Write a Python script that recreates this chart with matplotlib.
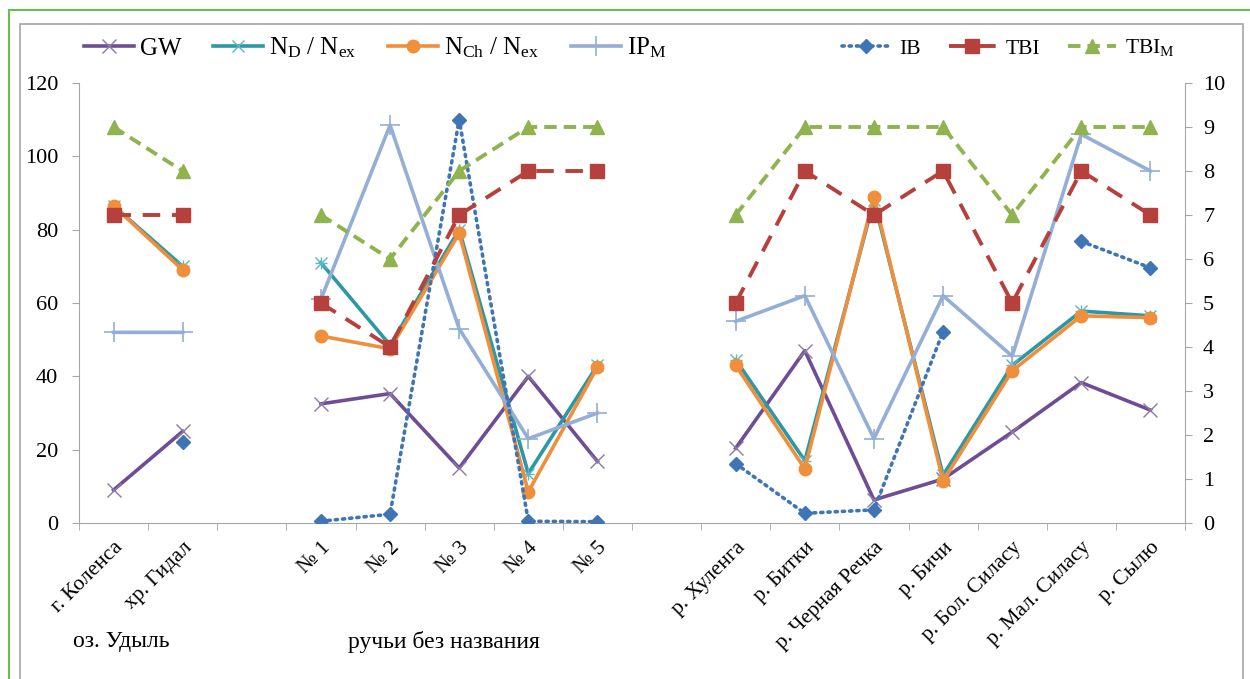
import numpy as np
import matplotlib
matplotlib.use("Agg")
import matplotlib.pyplot as plt
from matplotlib.patches import Rectangle

plt.rcParams['font.family'] = ['Liberation Serif', 'DejaVu Serif']
plt.rcParams['mathtext.fontset'] = 'custom'
plt.rcParams['mathtext.rm'] = 'Liberation Serif'
plt.rcParams['mathtext.it'] = 'Liberation Serif:italic'
plt.rcParams['mathtext.default'] = 'regular'

categories = ["г. Коленса", "хр. Гидал", "", "№ 1", "№ 2", "№ 3", "№ 4", "№ 5", "",
              "р. Хуленга", "р. Битки", "р. Черная Речка", "р. Бичи",
              "р. Бол. Силасу", "р. Мал. Силасу", "р. Сылю"]
groups = ["оз. Удыль", "ручьи без названия"]

N = None
GW   = [9, 25, N, 32.5, 35.3, 15, 40, 16.8, N, 20.4, 47, 6.3, 12, 24.8, 38.3, 30.8]
ND   = [86.5, 70, N, 71, 48.5, 80, 13.5, 43, N, 44.5, 17, 88, 13, 43, 57.8, 56.5]
NCh  = [86.5, 69, N, 51, 47.5, 79, 8.5, 42.5, N, 43, 14.8, 89, 11.5, 41.5, 56.5, 56]
IPM  = [52, 52, N, 61, 108.5, 53, 23, 30, N, 55, 62, 23, 62, 45.5, 106, 96]
IB   = [N, 1.83, N, 0.04, 0.2, 9.17, 0.04, 0.03, N, 1.35, 0.22, 0.3, 4.35, N, 6.4, 5.8]
TBI  = [7, 7, N, 5, 4, 7, 8, 8, N, 5, 8, 7, 8, 5, 8, 7]
TBIM = [9, 8, N, 7, 6, 8, 9, 9, N, 7, 9, 9, 9, 7, 9, 9]

left_ticks = [0, 20, 40, 60, 80, 100, 120]
right_ticks = list(range(0, 11))


def arr(v):
    return np.array([np.nan if x is None else x for x in v], dtype=float)


x = np.arange(len(categories))

fig = plt.figure(figsize=(12.5, 6.79), dpi=100)

# decorative frames
fig.add_artist(Rectangle((9 / 1250, -0.1), 1.2, 1 - 10 / 679 + 0.1, transform=fig.transFigure,
                         fill=False, edgecolor='#6dbb55', linewidth=1.5))
fig.add_artist(Rectangle((20 / 1250, -0.1), (1243 - 20) / 1250, 1 - 24 / 679 + 0.1,
                         transform=fig.transFigure, fill=False, edgecolor='#a6a6a6', linewidth=1.2))

ax = fig.add_axes([79 / 1250, 1 - 523 / 679, (1185 - 79) / 1250, (523 - 83) / 679])
ax2 = ax.twinx()

c_gw = '#6f4d94'
c_nd = '#2c97a6'
c_nch = '#ef8f3c'
c_ipm = '#94aed6'
c_ib = '#3f75b5'
c_tbi = '#b5403c'
c_tbim = '#8fb34f'

lw = 2.6
h_gw, = ax.plot(x, arr(GW), color=c_gw, lw=lw, marker='x', ms=10, mew=1.0, mec='#8a7aa6')
h_nd, = ax.plot(x, arr(ND), color=c_nd, lw=lw, marker='x', ms=9, mew=1.0, mec='#5bb7c6')
ax.plot(x, arr(ND), color=c_nd, lw=0, marker='+', ms=9, mew=1.0, mec='#5bb7c6')
h_nch, = ax.plot(x, arr(NCh), color=c_nch, lw=lw, marker='o', ms=9)
h_ipm, = ax.plot(x, arr(IPM), color=c_ipm, lw=lw, marker='+', ms=14, mew=1.2)

h_ib, = ax2.plot(x, arr(IB), color=c_ib, lw=2.6, ls=(0, (0.6, 1.4)), dash_capstyle='round',
                 marker='D', ms=7)
h_tbi, = ax2.plot(x, arr(TBI), color=c_tbi, lw=2.8, ls=(0, (4.5, 3)), marker='s', ms=10)
h_tbim, = ax2.plot(x, arr(TBIM), color=c_tbim, lw=2.8, ls=(0, (3.2, 1.8)), marker='^', ms=10)

ax.set_xlim(-0.5, len(categories) - 0.5)
ax.set_ylim(0, 120)
ax2.set_ylim(0, 10)
ax.set_yticks(left_ticks)
ax2.set_yticks(right_ticks)

ax.set_xticks(x)
ax.set_xticklabels(categories, rotation=45, ha='right', rotation_mode='anchor', fontsize=15.5)
ax.tick_params(axis='x', which='major', length=0, pad=11)
ax.set_xticks(np.arange(-0.5, len(categories)), minor=True)
ax.tick_params(axis='x', which='minor', length=5, color='#a6a6a6', direction='out')
ax.tick_params(axis='y', labelsize=16, length=5, color='#a6a6a6', pad=10)
ax2.tick_params(axis='y', labelsize=16, length=5, color='#a6a6a6', pad=8)

for a in (ax, ax2):
    a.spines['top'].set_visible(False)
    a.spines['left'].set_color('#a6a6a6')
    a.spines['right'].set_color('#a6a6a6')
    a.spines['bottom'].set_color('#a6a6a6')
ax.spines['right'].set_visible(False)
ax2.spines['left'].set_visible(False)
ax2.spines['bottom'].set_visible(False)

# group labels
fig.text(121 / 1250, 1 - 642 / 679, groups[0], fontsize=17, ha='center', va='center')
fig.text(444 / 1250, 1 - 642 / 679, groups[1], fontsize=17, ha='center', va='center')

leg1 = fig.legend([h_gw, h_nd, h_nch, h_ipm],
                  ["GW", "N$_D$ / N$_{ex}$", "N$_{Ch}$ / N$_{ex}$", "IP$_M$"],
                  loc='center left', bbox_to_anchor=(84 / 1250, 1 - 48 / 679), ncol=4,
                  frameon=False, fontsize=18, handlelength=2.0, columnspacing=1.25,
                  handletextpad=0.25, borderpad=0, borderaxespad=0)
leg2 = fig.legend([h_ib, h_tbi, h_tbim], ["IB", "TBI", "TBI$_M$"],
                  loc='center left', bbox_to_anchor=(842 / 1250, 1 - 48 / 679), ncol=3,
                  frameon=False, fontsize=15.5, handlelength=2.2, columnspacing=1.3,
                  handletextpad=0.45, borderpad=0, borderaxespad=0)

fig.savefig("out.png", dpi=100)
